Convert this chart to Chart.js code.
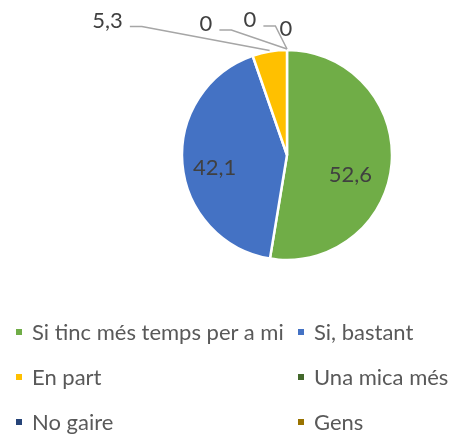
<!DOCTYPE html>
<html>
<head>
<meta charset="utf-8">
<script src="https://cdn.jsdelivr.net/npm/chart.js@4.4.0/dist/chart.umd.min.js"></script>
<style>
  html, body { margin: 0; padding: 0; background: #fff; }
  #wrap { position: relative; width: 456px; height: 435px; }
  #legend { position: absolute; left: 16px; top: 309px; display: grid;
            grid-template-columns: 282px auto; grid-auto-rows: 45px;
            font-family: Lato, sans-serif; font-size: 22px; color: #595959; }
  .item { display: flex; align-items: center; white-space: nowrap; }
  .box { width: 6px; height: 6px; margin-right: 10px; flex: none; }
</style>
</head>
<body>
<div id="wrap">
  <canvas id="pie" width="456" height="435"></canvas>
  <div id="legend"></div>
</div>
<script>
// dades del gràfic
const categories = ['Si tinc més temps per a mi', 'Si, bastant', 'En part', 'Una mica més', 'No gaire', 'Gens'];
const values = [52.6, 42.1, 5.3, 0, 0, 0];
const colors = ['#70ad47', '#4472c4', '#ffc000', '#43682b', '#264478', '#997300'];

// on va cada etiqueta respecte al seu sector (dx, dy) i si va fora amb línia
const labelOutside = [false, false, true, true, true, true];
const labelOffsets = [[11, 16], [-20, 8], [-162, -31], [-81, -26], [-37, -30], [-1, -21]];
const leaderLines = [false, false, true, true, true, false];

const fmt = v => String(v).replace('.', ',');

const pieLabels = {
    id: 'pieLabels',
    afterDatasetsDraw(chart) {
        const ctx = chart.ctx;
        const arcs = chart.getDatasetMeta(0).data;
        ctx.save();
        ctx.font = '22px Lato';
        ctx.textAlign = 'center';
        ctx.textBaseline = 'middle';
        arcs.forEach((arc, i) => {
            const a = (arc.startAngle + arc.endAngle) / 2;
            let ax, ay;
            if (labelOutside[i]) {
                ax = arc.x + Math.cos(a) * arc.outerRadius;
                ay = arc.y + Math.sin(a) * arc.outerRadius;
            } else {
                const p = arc.tooltipPosition();
                ax = p.x; ay = p.y;
            }
            const lx = ax + labelOffsets[i][0];
            const ly = ay + labelOffsets[i][1];
            const txt = fmt(values[i]);

            if (leaderLines[i]) {
                const w = ctx.measureText(txt).width;
                const sx = lx + w / 2 + 7;
                const sy = ly + 6;
                ctx.strokeStyle = '#a6a6a6';
                ctx.lineWidth = 1.5;
                ctx.beginPath();
                ctx.moveTo(sx, sy);
                ctx.lineTo(sx + 12, sy);
                ctx.lineTo(ax, ay - 1);
                ctx.stroke();
            }
            ctx.fillStyle = '#404040';
            ctx.fillText(txt, lx, ly);
        });
        ctx.restore();
    }
};

new Chart(document.getElementById('pie'), {
    type: 'pie',
    data: {
        labels: categories,
        datasets: [{
            data: values,
            backgroundColor: colors,
            borderColor: '#ffffff',
            borderWidth: 2.5,
            radius: 105
        }]
    },
    options: {
        responsive: false,
        animation: false,
        layout: { padding: { left: 182, right: 64, top: 50, bottom: 175 } },
        plugins: { legend: { display: false }, tooltip: { enabled: false } }
    },
    plugins: [pieLabels]
});

// llegenda a dues columnes
const legend = document.getElementById('legend');
categories.forEach((c, i) => {
    const it = document.createElement('div');
    it.className = 'item';
    it.innerHTML = `<span class="box" style="background:${colors[i]}"></span><span>${c}</span>`;
    legend.appendChild(it);
});
</script>
</body>
</html>
